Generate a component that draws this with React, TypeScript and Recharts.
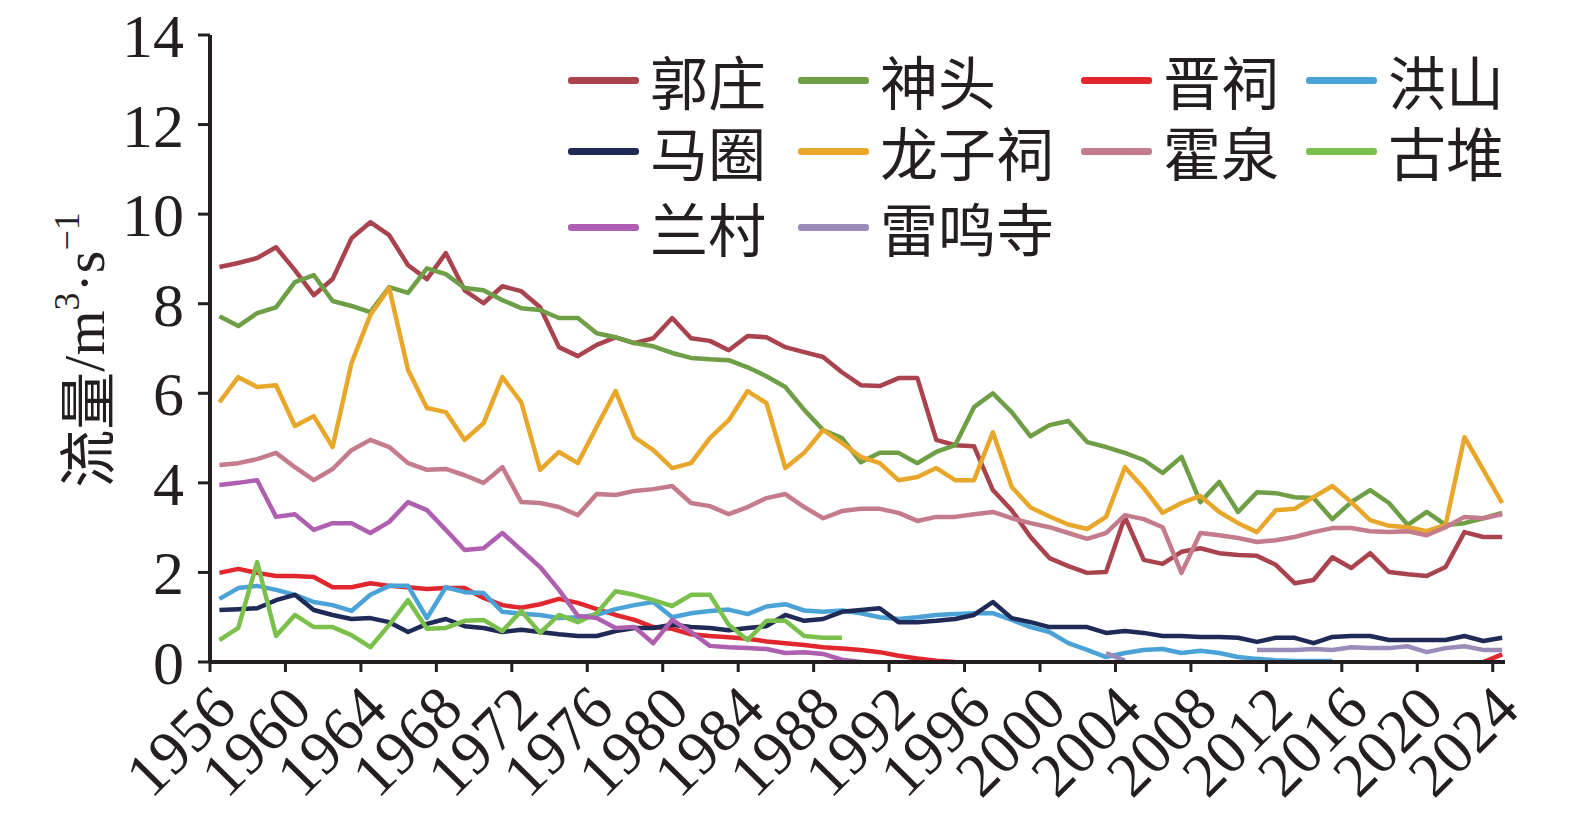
import React from 'react';
import { LineChart, Line, XAxis, YAxis } from 'recharts';

// 年份（1956–2024）
const YEARS = [
  1956, 1957, 1958, 1959, 1960, 1961, 1962, 1963, 1964, 1965,
  1966, 1967, 1968, 1969, 1970, 1971, 1972, 1973, 1974, 1975,
  1976, 1977, 1978, 1979, 1980, 1981, 1982, 1983, 1984, 1985,
  1986, 1987, 1988, 1989, 1990, 1991, 1992, 1993, 1994, 1995,
  1996, 1997, 1998, 1999, 2000, 2001, 2002, 2003, 2004, 2005,
  2006, 2007, 2008, 2009, 2010, 2011, 2012, 2013, 2014, 2015,
  2016, 2017, 2018, 2019, 2020, 2021, 2022, 2023, 2024,
];

const X_TICKS = [1955.5, 1959.5, 1963.5, 1967.5, 1971.5, 1975.5, 1979.5, 1983.5, 1987.5, 1991.5, 1995.5, 1999.5, 2003.5, 2007.5, 2011.5, 2015.5, 2019.5, 2023.5];
const Y_TICKS = [0, 2, 4, 6, 8, 10, 12, 14];

const _ = null;

const GUOZHUANG = [
  8.82, 8.91, 9.02, 9.26, 8.75, 8.19, 8.55, 9.46, 9.82, 9.53,
  8.86, 8.55, 9.13, 8.30, 8.01, 8.39, 8.28, 7.92, 7.03, 6.83,
  7.08, 7.25, 7.12, 7.23, 7.68, 7.23, 7.17, 6.96, 7.28, 7.25,
  7.03, 6.92, 6.81, 6.47, 6.18, 6.16, 6.34, 6.34, 4.96, 4.84,
  4.82, 3.84, 3.39, 2.79, 2.32, 2.14, 1.99, 2.01, 3.24, 2.28,
  2.19, 2.46, 2.54, 2.43, 2.39, 2.37, 2.17, 1.76, 1.83, 2.34,
  2.10, 2.43, 2.01, 1.96, 1.92, 2.12, 2.90, 2.79, 2.79,
];

const SHENTOU = [
  7.72, 7.50, 7.79, 7.92, 8.48, 8.64, 8.06, 7.95, 7.81, 8.37,
  8.24, 8.79, 8.66, 8.35, 8.30, 8.08, 7.90, 7.86, 7.68, 7.68,
  7.34, 7.25, 7.12, 7.05, 6.90, 6.79, 6.76, 6.74, 6.58, 6.38,
  6.14, 5.63, 5.18, 5.00, 4.46, 4.67, 4.67, 4.44, 4.69, 4.84,
  5.69, 6.00, 5.58, 5.04, 5.29, 5.38, 4.91, 4.80, 4.67, 4.51,
  4.22, 4.58, 3.57, 4.02, 3.35, 3.79, 3.77, 3.68, 3.66, 3.19,
  3.57, 3.84, 3.55, 3.06, 3.35, 3.06, 3.10, 3.21, 3.33,
];

const JINCI = [
  1.99, 2.08, 1.99, 1.92, 1.92, 1.90, 1.67, 1.67, 1.76, 1.70,
  1.67, 1.63, 1.65, 1.65, 1.43, 1.27, 1.21, 1.29, 1.41, 1.32,
  1.18, 1.05, 0.94, 0.78, 0.74, 0.62, 0.58, 0.55, 0.52, 0.46,
  0.42, 0.38, 0.33, 0.30, 0.27, 0.22, 0.14, 0.08, 0.03, 0.00,
  _, _, _, _, _, _, _, _, _, _,
  _, _, _, _, _, _, _, _, _, _,
  _, _, _, _, _, _, _, 0.00, 0.17,
];

const HONGSHAN = [
  1.41, 1.65, 1.70, 1.61, 1.50, 1.34, 1.27, 1.14, 1.50, 1.70,
  1.70, 0.98, 1.67, 1.56, 1.54, 1.12, 1.08, 1.05, 0.98, 1.00,
  1.05, 1.18, 1.27, 1.34, 1.00, 1.09, 1.14, 1.17, 1.07, 1.24,
  1.29, 1.15, 1.12, 1.15, 1.09, 1.00, 0.96, 1.00, 1.05, 1.07,
  1.09, 1.09, 0.94, 0.78, 0.67, 0.42, 0.27, 0.11, 0.20, 0.27,
  0.29, 0.20, 0.25, 0.20, 0.11, 0.07, 0.04, 0.02, 0.02, 0.02,
  _, _, _, _, _, _, _, _, _,
];

const MAJUAN = [
  1.16, 1.18, 1.20, 1.38, 1.50, 1.16, 1.05, 0.96, 0.98, 0.89,
  0.67, 0.85, 0.96, 0.80, 0.76, 0.67, 0.72, 0.67, 0.62, 0.58,
  0.58, 0.69, 0.76, 0.76, 0.83, 0.78, 0.76, 0.71, 0.76, 0.80,
  1.05, 0.92, 0.96, 1.12, 1.16, 1.20, 0.89, 0.89, 0.92, 0.96,
  1.05, 1.34, 0.98, 0.89, 0.78, 0.78, 0.78, 0.65, 0.69, 0.65,
  0.58, 0.58, 0.56, 0.56, 0.54, 0.45, 0.54, 0.54, 0.42, 0.56,
  0.58, 0.58, 0.49, 0.49, 0.49, 0.49, 0.58, 0.47, 0.54,
];

const LONGZICI = [
  5.80, 6.36, 6.14, 6.18, 5.27, 5.49, 4.80, 6.67, 7.75, 8.35,
  6.52, 5.67, 5.58, 4.96, 5.33, 6.36, 5.80, 4.29, 4.69, 4.44,
  5.25, 6.05, 5.02, 4.73, 4.33, 4.44, 5.00, 5.40, 6.05, 5.78,
  4.33, 4.67, 5.18, 4.89, 4.58, 4.44, 4.06, 4.13, 4.33, 4.06,
  4.06, 5.13, 3.91, 3.45, 3.25, 3.07, 2.97, 3.24, 4.35, 3.88,
  3.33, 3.55, 3.71, 3.35, 3.10, 2.90, 3.39, 3.42, 3.68, 3.93,
  3.57, 3.17, 3.04, 3.01, 2.92, 3.06, 5.02, 4.29, 3.55,
];

const HUOQUAN = [
  4.40, 4.44, 4.53, 4.67, 4.35, 4.06, 4.31, 4.73, 4.96, 4.80,
  4.44, 4.29, 4.31, 4.17, 4.00, 4.35, 3.57, 3.55, 3.46, 3.28,
  3.75, 3.73, 3.82, 3.86, 3.93, 3.55, 3.48, 3.30, 3.46, 3.66,
  3.75, 3.46, 3.21, 3.37, 3.42, 3.42, 3.33, 3.15, 3.24, 3.24,
  3.30, 3.35, 3.21, 3.10, 3.01, 2.88, 2.75, 2.88, 3.28, 3.19,
  3.01, 1.99, 2.88, 2.83, 2.77, 2.68, 2.72, 2.79, 2.90, 2.99,
  2.99, 2.92, 2.90, 2.92, 2.83, 3.01, 3.24, 3.21, 3.30,
];

const GUDUI = [
  0.49, 0.76, 2.23, 0.58, 1.05, 0.78, 0.78, 0.60, 0.33, 0.83,
  1.38, 0.74, 0.76, 0.92, 0.94, 0.69, 1.14, 0.65, 1.05, 0.89,
  1.09, 1.58, 1.50, 1.38, 1.25, 1.50, 1.50, 0.83, 0.49, 0.92,
  0.92, 0.58, 0.54, 0.54, _, _, _, _, _, _,
  _, _, _, _, _, _, _, _, _, _,
  _, _, _, _, _, _, _, _, _, _,
  _, _, _, _, _, _, _, _, _,
];

const LANCUN = [
  3.95, 4.00, 4.06, 3.24, 3.30, 2.95, 3.10, 3.10, 2.88, 3.13,
  3.57, 3.39, 2.95, 2.50, 2.54, 2.88, 2.50, 2.12, 1.61, 1.03,
  0.98, 0.76, 0.78, 0.42, 0.94, 0.67, 0.36, 0.33, 0.31, 0.29,
  0.20, 0.22, 0.18, 0.05, 0.00, _, _, _, _, _,
  _, _, _, _, _, _, _, _, _, _,
  _, _, _, _, _, _, _, _, _, _,
  _, _, _, _, _, _, _, _, _,
];

const LEIMINGSI = [
  _, _, _, _, _, _, _, _, _, _,
  _, _, _, _, _, _, _, _, _, _,
  _, _, _, _, _, _, _, _, _, _,
  _, _, _, _, _, _, _, _, _, _,
  _, _, _, _, _, _, _, 0.20, 0.03, _,
  _, _, _, _, _, 0.27, 0.27, 0.27, 0.29, 0.27,
  0.33, 0.31, 0.31, 0.35, 0.22, 0.31, 0.35, 0.27, 0.27,
];

const SERIES = [
  { name: '郭庄', color: '#A9444F', values: GUOZHUANG },
  { name: '神头', color: '#6E9E45', values: SHENTOU },
  { name: '晋祠', color: '#E1262D', values: JINCI },
  { name: '洪山', color: '#4BA2D6', values: HONGSHAN },
  { name: '马圈', color: '#1F2A56', values: MAJUAN },
  { name: '龙子祠', color: '#E8A72B', values: LONGZICI },
  { name: '霍泉', color: '#C47B8C', values: HUOQUAN },
  { name: '古堆', color: '#7BC04D', values: GUDUI },
  { name: '兰村', color: '#AE5FB0', values: LANCUN },
  { name: '雷鸣寺', color: '#9A8BB9', values: LEIMINGSI },
];

// 图例位置：4 列 3 行
const LEGEND_COLS = [568, 798, 1081, 1306];
const LEGEND_ROWS = [80, 151, 227];

const SERIF = '"Liberation Serif", "Times New Roman", serif';
const CJK = '"Noto Sans CJK SC", "Noto Sans CJK JP", sans-serif';
const INK = '#231F20';

const data = YEARS.map((year, i) => {
  const row: Record<string, number | null> = { year };
  SERIES.forEach(s => { row[s.name] = s.values[i]; });
  return row;
});

function YearTick({ x, payload }: { x?: number; payload?: { value: number } }) {
  const ax = (x ?? 0) + 29;
  const ay = 712;
  return (
    <text x={ax} y={ay} transform={`rotate(-45, ${ax}, ${ay})`} textAnchor="end"
      fontSize={62} fontFamily={SERIF} fill={INK}>
      {Math.round((payload?.value ?? 0) + 0.5)}
    </text>
  );
}

function YTitle() {
  const cx = 84;
  const cy = 350;
  return (
    <text x={cx} y={cy} transform={`rotate(-90, ${cx}, ${cy})`} textAnchor="middle"
      dominantBaseline="central" fontSize={58} fill={INK} fontFamily={SERIF}>
      <tspan fontFamily={CJK}>流量</tspan>
      <tspan>/m</tspan>
      <tspan fontSize={36} dy={-17}>3</tspan>
      <tspan dy={17}>{'\u00B7s'}</tspan>
      <tspan fontSize={36} dy={-17}>{'\u22121'}</tspan>
    </text>
  );
}

export default function App() {
  return (
    <div style={{ position: 'fixed', left: 0, top: 0, width: 1575, height: 823, background: '#fff' }}>
      <LineChart width={1575} height={823} data={data}
        margin={{ top: 35, right: 70, bottom: 0, left: 0 }}>
        <XAxis dataKey="year" type="number" domain={[1955.5, 2024.15]} ticks={X_TICKS}
          interval={0} allowDataOverflow height={161} tickSize={10}
          axisLine={{ stroke: INK, strokeWidth: 4 }} tickLine={{ stroke: INK, strokeWidth: 3 }}
          tick={<YearTick />} />
        <YAxis type="number" domain={[0, 14]} ticks={Y_TICKS} interval={0} width={210}
          tickSize={12} tickMargin={14}
          axisLine={{ stroke: INK, strokeWidth: 4 }} tickLine={{ stroke: INK, strokeWidth: 3 }}
          tick={{ fontSize: 62, fontFamily: SERIF, fill: INK }}
          label={<YTitle />} />
        {SERIES.map(s => (
          <Line key={s.name} dataKey={s.name} type="linear" stroke={s.color} strokeWidth={4.5}
            strokeLinejoin="round" dot={false} activeDot={false} isAnimationActive={false} />
        ))}
      </LineChart>
      {SERIES.map((s, i) => {
        const lx = LEGEND_COLS[i % 4];
        const ly = LEGEND_ROWS[Math.floor(i / 4)];
        return (
          <React.Fragment key={s.name}>
            <div style={{ position: 'absolute', left: lx, top: ly - 3.5, width: 71, height: 7, background: s.color, borderRadius: 3 }} />
            <div style={{ position: 'absolute', left: lx + 82, top: ly - 30, height: 60, fontSize: 58, lineHeight: '60px', fontFamily: CJK, color: INK, whiteSpace: 'nowrap' }}>
              {s.name}
            </div>
          </React.Fragment>
        );
      })}
    </div>
  );
}
